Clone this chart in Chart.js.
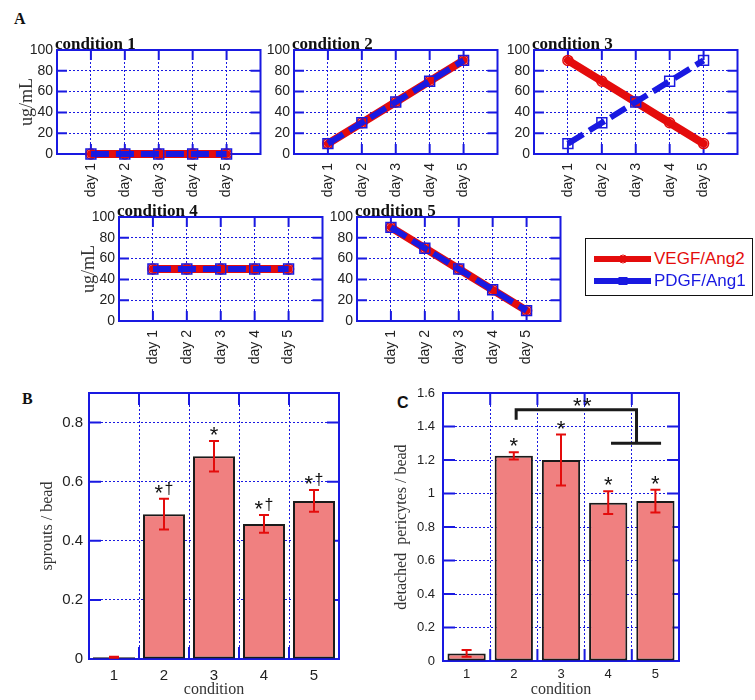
<!DOCTYPE html>
<html lang="en">
<head>
<meta charset="UTF-8">
<title>Growth factor conditions</title>
<script src="https://cdn.jsdelivr.net/npm/chart.js"></script>
<style>
  html, body { margin: 0; padding: 0; background: #fff; overflow: hidden; }
  #wrap { position: relative; width: 755px; height: 700px; }
  #wrap canvas { position: absolute; }
  .panel { position: absolute; font-weight: bold; font-size: 16px; line-height: 16px; color: #111; }
  #legend { position: absolute; left: 585px; top: 238px; width: 168px; height: 58px;
            border: 1.5px solid #111; box-sizing: border-box;
            font-family: "Liberation Sans", Arial, sans-serif; font-size: 17px; }
  #legend .row { position: absolute; left: 8px; height: 20px; display: flex; align-items: center; }
  #legend .sw { position: relative; width: 57px; height: 6px; margin-right: 3px; }
  #legend .mk { position: absolute; left: 50%; top: 50%; transform: translate(-50%, -50%);
                box-sizing: border-box; border-width: 1.5px; border-style: solid; }
</style>
</head>
<body>
<div id="wrap">
  <div class="panel" style="left:14px;top:11px;font-family:'Liberation Serif',serif">A</div>
  <div class="panel" style="left:22px;top:391px;font-family:'Liberation Serif',serif">B</div>
  <div class="panel" style="left:397px;top:395px;font-family:'Liberation Sans',sans-serif">C</div>

  <canvas id="cond1" width="256" height="172" style="left:13px;top:30px"></canvas>
  <canvas id="cond2" width="256" height="172" style="left:250px;top:30px"></canvas>
  <canvas id="cond3" width="256" height="172" style="left:490px;top:30px"></canvas>
  <canvas id="cond4" width="256" height="172" style="left:75px;top:197px"></canvas>
  <canvas id="cond5" width="256" height="172" style="left:313px;top:197px"></canvas>
  <div id="legend"></div>

  <canvas id="sprouts" width="315" height="326" style="left:30px;top:373px"></canvas>
  <canvas id="detached" width="300" height="326" style="left:385px;top:373px"></canvas>
</div>
<script>
// ---- data ----
const days = [1, 2, 3, 4, 5];
const seriesNames = ['VEGF/Ang2', 'PDGF/Ang1'];
// ug/mL per day, one row per condition
const vegfAng2 = [
  [0, 0, 0, 0, 0],
  [10, 30, 50, 70, 90],
  [90, 70, 50, 30, 10],
  [50, 50, 50, 50, 50],
  [90, 70, 50, 30, 10]
];
const pdgfAng1 = [
  [0, 0, 0, 0, 0],
  [10, 30, 50, 70, 90],
  [10, 30, 50, 70, 90],
  [50, 50, 50, 50, 50],
  [90, 70, 50, 30, 10]
];
const concTicks = [0, 20, 40, 60, 80, 100];

const conditions = ['1', '2', '3', '4', '5'];
const sproutsMean = [0.006, 0.49, 0.686, 0.457, 0.535];
const sproutsErr = [0.002, 0.052, 0.052, 0.03, 0.037];
const sproutsMarks = ['', '*\u2020', '*', '*\u2020', '*\u2020'];
const sproutTicks = [0, 0.2, 0.4, 0.6, 0.8];

const detachedMean = [0.045, 1.225, 1.2, 0.945, 0.955];
const detachedErr = [0.02, 0.022, 0.152, 0.068, 0.068];
const detachedMarks = ['', '*', '*', '*', '*'];
const detachedTicks = [0, 0.2, 0.4, 0.6, 0.8, 1, 1.2, 1.4, 1.6];
// significance bracket, in condition units
const bracketX = [2.05, 4.6];
const bracketY = [1.44, 1.5, 1.3];
const bracketFoot = [4.06, 5.12];
const bracketLabel = '**';

// ---- styles ----
const BLUE = 'rgb(25,25,225)';
const RED = 'rgb(228,12,12)';
const BAR = 'rgb(240,128,128)';
const SANS = '"Liberation Sans", Arial, sans-serif';
const serif = '"Liberation Serif", serif';
Chart.defaults.font.family = SANS;
Chart.defaults.color = '#222';

// blue box, inward tick marks
const framePlugin = {
  id: 'frame',
  beforeDatasetsDraw(chart, args, opts) {
    const {ctx, chartArea: a, scales: {x, y}} = chart;
    const len = opts.tick || 10;
    ctx.save();
    ctx.strokeStyle = BLUE;
    ctx.lineWidth = 2;
    ctx.beginPath();
    y.ticks.forEach(t => {
      const py = y.getPixelForValue(t.value);
      if (py > a.top + 1 && py < a.bottom - 1) {
        ctx.moveTo(a.left, py); ctx.lineTo(a.left + len, py);
        ctx.moveTo(a.right, py); ctx.lineTo(a.right - len, py);
      }
    });
    let xs = [];
    if (opts.between) {
      for (let i = 0; i < x.ticks.length - 1; i++) {
        xs.push((x.getPixelForValue(i) + x.getPixelForValue(i + 1)) / 2);
      }
    } else {
      xs = x.ticks.map(t => x.getPixelForValue(t.value));
    }
    xs.forEach(px => {
      ctx.moveTo(px, a.top); ctx.lineTo(px, a.top + len);
      ctx.moveTo(px, a.bottom); ctx.lineTo(px, a.bottom - len);
    });
    ctx.stroke();
    ctx.strokeRect(a.left, a.top, a.width, a.height);
    ctx.restore();
  }
};

const cornerTitle = {
  id: 'cornerTitle',
  afterDraw(chart, args, opts) {
    if (!opts.text) return;
    const {ctx, chartArea: a} = chart;
    ctx.save();
    ctx.font = 'bold 17px ' + serif;
    ctx.fillStyle = '#111';
    ctx.textAlign = 'left';
    ctx.textBaseline = 'alphabetic';
    ctx.fillText(opts.text, a.left - 2, a.top - 1);
    ctx.restore();
  }
};

// asterisks big, daggers smaller and a bit higher
function drawMark(ctx, text, cx, base) {
  const glyphs = [...text].map(ch => ({
    ch,
    font: (ch === '*' ? 22 : 16) + 'px ' + SANS,
    dy: ch === '*' ? 0 : -6
  }));
  let total = 0;
  glyphs.forEach(g => { ctx.font = g.font; g.w = ctx.measureText(g.ch).width; total += g.w; });
  total += 1.5 * (glyphs.length - 1);
  let px = cx - total / 2;
  ctx.textAlign = 'left';
  ctx.textBaseline = 'alphabetic';
  glyphs.forEach(g => {
    ctx.font = g.font;
    ctx.fillText(g.ch, px, base + g.dy);
    px += g.w + 1.5;
  });
}

const errorMarks = {
  id: 'errorMarks',
  afterDatasetsDraw(chart, args, opts) {
    if (!opts.err) return;
    const {ctx, scales: {x, y}} = chart;
    const mean = chart.data.datasets[0].data;
    const meta = chart.getDatasetMeta(0);
    ctx.save();
    meta.data.forEach((bar, i) => {
      const px = bar.x;
      const hi = y.getPixelForValue(mean[i] + opts.err[i]);
      const lo = y.getPixelForValue(Math.max(mean[i] - opts.err[i], 0));
      ctx.strokeStyle = RED;
      ctx.lineWidth = 2;
      ctx.beginPath();
      ctx.moveTo(px, hi); ctx.lineTo(px, lo);
      ctx.moveTo(px - 5, hi); ctx.lineTo(px + 5, hi);
      ctx.moveTo(px - 5, lo); ctx.lineTo(px + 5, lo);
      ctx.stroke();
      if (opts.marks[i]) {
        ctx.fillStyle = '#111';
        drawMark(ctx, opts.marks[i], px, hi + 1);
      }
    });
    if (opts.bracket) {
      const bx = v => x.getPixelForValue(v - 1);
      const b = opts.bracket;
      ctx.strokeStyle = '#1a1a1a';
      ctx.lineWidth = 3;
      ctx.beginPath();
      ctx.moveTo(bx(b.x[0]), y.getPixelForValue(b.y[0]));
      ctx.lineTo(bx(b.x[0]), y.getPixelForValue(b.y[1]));
      ctx.lineTo(bx(b.x[1]), y.getPixelForValue(b.y[1]));
      ctx.lineTo(bx(b.x[1]), y.getPixelForValue(b.y[2]));
      ctx.moveTo(bx(b.foot[0]), y.getPixelForValue(b.y[2]));
      ctx.lineTo(bx(b.foot[1]), y.getPixelForValue(b.y[2]));
      ctx.stroke();
      ctx.fillStyle = '#111';
      drawMark(ctx, b.label, bx(b.labelAt), y.getPixelForValue(b.y[1]) + 3);
    }
    ctx.restore();
  }
};

// ---- panel A: five small line charts ----
function conditionChart(id, i, showYTitle) {
  const pts = arr => days.map((d, k) => ({x: d, y: arr[k]}));
  return new Chart(document.getElementById(id), {
    type: 'line',
    data: {
      datasets: [{
        label: seriesNames[0],
        data: pts(vegfAng2[i]),
        borderColor: RED,
        borderWidth: 8,
        borderCapStyle: 'round',
        pointStyle: 'circle',
        pointRadius: 5,
        pointBorderWidth: 1.5,
        pointBorderColor: RED,
        pointBackgroundColor: 'rgba(255,255,255,0)',
        clip: false,
        order: 2
      }, {
        label: seriesNames[1],
        data: pts(pdgfAng1[i]),
        borderColor: BLUE,
        borderWidth: 6,
        borderDash: [18, 7],
        pointStyle: 'rect',
        pointRadius: 7,
        pointBorderWidth: 1.5,
        pointBorderColor: BLUE,
        pointBackgroundColor: 'rgba(255,255,255,0)',
        clip: false,
        order: 1
      }]
    },
    options: {
      responsive: false,
      animation: false,
      layout: {padding: {top: 20, right: 4}},
      plugins: {
        legend: {display: false},
        tooltip: {enabled: false},
        frame: {tick: 10},
        cornerTitle: {text: 'condition ' + (i + 1)}
      },
      scales: {
        x: {
          type: 'linear', min: 0, max: 6,
          afterBuildTicks: s => { s.ticks = days.map(v => ({value: v})); },
          afterFit: s => { s.height = 48; },
          ticks: {callback: v => 'day ' + v, minRotation: 90, maxRotation: 90, autoSkip: false,
                  padding: 9, font: {size: 14}},
          grid: {color: BLUE, lineWidth: 1, drawTicks: false},
          border: {display: false, dash: [2, 2]}
        },
        y: {
          min: 0, max: 100,
          afterBuildTicks: s => { s.ticks = concTicks.map(v => ({value: v})); },
          afterFit: s => { s.width = 44; },
          ticks: {padding: 4, font: {size: 14}},
          grid: {color: BLUE, lineWidth: 1, drawTicks: false},
          border: {display: false, dash: [2, 2]},
          title: {display: showYTitle, text: 'ug/mL', color: '#333',
                  font: {family: serif, size: 18}, padding: {top: 3, bottom: 0}}
        }
      }
    },
    plugins: [framePlugin, cornerTitle]
  });
}

conditionChart('cond1', 0, true);
conditionChart('cond2', 1, false);
conditionChart('cond3', 2, false);
conditionChart('cond4', 3, true);
conditionChart('cond5', 4, false);

// legend
const legend = document.getElementById('legend');
[[RED, '50%', 9, 9], [BLUE, '0', 9, 8]].forEach((s, k) => {
  const row = document.createElement('div');
  row.className = 'row';
  row.style.top = (10 + k * 22) + 'px';
  row.innerHTML = '<span class="sw" style="background:' + s[0] + '"><i class="mk" style="border-color:' + s[0] +
    ';border-radius:' + s[1] + ';width:' + s[2] + 'px;height:' + s[3] + 'px"></i></span>' +
    '<span style="color:' + s[0] + '">' + seriesNames[k] + '</span>';
  legend.appendChild(row);
});

// ---- panels B and C: bar charts ----
function barChart(id, mean, err, marks, ticks, yMax, yTitle, o) {
  return new Chart(document.getElementById(id), {
    type: 'bar',
    data: {
      labels: conditions,
      datasets: [{
        data: mean,
        backgroundColor: BAR,
        borderColor: '#1a1a1a',
        borderWidth: 2,
        borderSkipped: false,
        barPercentage: o.barPct,
        categoryPercentage: 1
      }]
    },
    options: {
      responsive: false,
      animation: false,
      layout: {padding: {top: 20, right: 6}},
      plugins: {
        legend: {display: false},
        tooltip: {enabled: false},
        frame: {tick: 12, between: true},
        errorMarks: {err: err, marks: marks, bracket: o.bracket}
      },
      scales: {
        x: {
          afterFit: s => { s.height = o.xh; },
          ticks: {padding: o.xpad, font: {size: o.fs}},
          grid: {color: BLUE, lineWidth: 1, drawTicks: false, offset: true},
          border: {display: false, dash: [2, 2]},
          title: {display: true, text: 'condition', color: '#333',
                  font: {family: serif, size: 16}, padding: {top: 0, bottom: 0}}
        },
        y: {
          min: 0, max: yMax,
          afterBuildTicks: s => { s.ticks = ticks.map(v => ({value: v})); },
          afterFit: s => { s.width = o.yw; },
          ticks: {padding: o.ypad, font: {size: o.fs}, callback: v => String(+v.toFixed(1))},
          grid: {color: BLUE, lineWidth: 1, drawTicks: false},
          border: {display: false, dash: [2, 2]},
          title: {display: true, text: yTitle, color: '#333',
                  font: {family: serif, size: 16}, padding: {top: o.ytp, bottom: 0}}
        }
      }
    },
    plugins: [framePlugin, errorMarks]
  });
}

barChart('sprouts', sproutsMean, sproutsErr, sproutsMarks, sproutTicks, 0.9, 'sprouts / bead',
  {barPct: 0.84, xh: 40, xpad: 8, fs: 15, yw: 59, ypad: 6, ytp: 8});

barChart('detached', detachedMean, detachedErr, detachedMarks, detachedTicks, 1.6, 'detached  pericytes / bead',
  {barPct: 0.81, xh: 38, xpad: 6, fs: 13, yw: 58, ypad: 8, ytp: 7,
   bracket: {x: bracketX, y: bracketY, foot: bracketFoot, label: bracketLabel, labelAt: 3.45}});
</script>
</body>
</html>
